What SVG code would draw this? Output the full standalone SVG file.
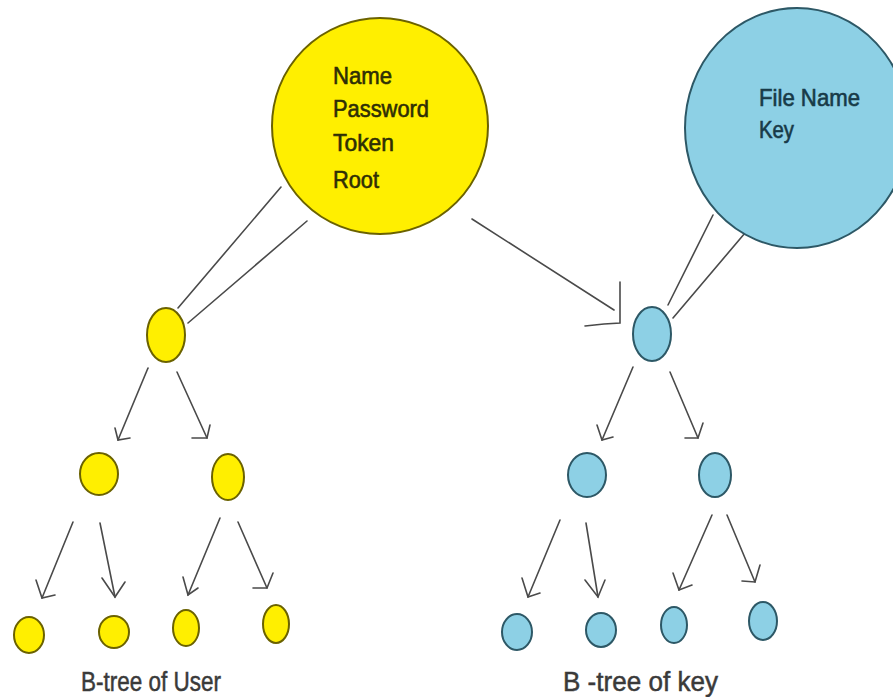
<svg xmlns="http://www.w3.org/2000/svg" width="893" height="697" viewBox="0 0 893 697">
<style>
.y{fill:#FFEF00;stroke:#6b6200;stroke-width:2}
.b{fill:#8DD0E5;stroke:#2d5866;stroke-width:2}
.c line,.c polyline{stroke:#4a4a4a;stroke-width:1.6;fill:none;stroke-linecap:round}
.t{font-family:"Liberation Sans",Arial,sans-serif;font-size:24px;stroke-width:0.6}
.ty{fill:#2e2e05;stroke:#2e2e05}
.tb{fill:#173a48;stroke:#173a48}
.cap{font-family:"Liberation Sans",Arial,sans-serif;font-size:27px;fill:#3a3a3a;stroke:#3a3a3a;stroke-width:0.5}
</style>
<rect width="893" height="697" fill="#fff"/>
<g class="c" id="connectors">
<line x1="178" y1="308" x2="281" y2="187"/>
<line x1="188" y1="323" x2="307" y2="221"/>
<line x1="668" y1="305" x2="713" y2="215"/>
<line x1="673" y1="318" x2="745" y2="233"/>
<line x1="472" y1="219" x2="614" y2="310"/>
<polyline points="620,282 620,323 604,324 585,326"/>
<line x1="148" y1="368" x2="118" y2="440"/>
<polyline points="115,428 118,440 130,438"/>
<line x1="177" y1="372" x2="207" y2="438"/>
<polyline points="192,438 207,438 210,425"/>
<line x1="73" y1="522" x2="42" y2="598"/>
<polyline points="36,580 42,598 55,595"/>
<line x1="100" y1="523" x2="115" y2="597"/>
<polyline points="102,578 115,597 125,582"/>
<line x1="220" y1="518" x2="188" y2="595"/>
<polyline points="183,577 188,595 198,588"/>
<line x1="238" y1="522" x2="267" y2="588"/>
<polyline points="253,588 267,588 273,573"/>
<line x1="633" y1="367" x2="602" y2="440"/>
<polyline points="597,425 602,440 613,437"/>
<line x1="670" y1="372" x2="698" y2="438"/>
<polyline points="685,438 698,438 703,423"/>
<line x1="560" y1="520" x2="528" y2="597"/>
<polyline points="522,578 528,597 540,593"/>
<line x1="586" y1="523" x2="598" y2="597"/>
<polyline points="585,580 598,597 605,580"/>
<line x1="712" y1="515" x2="679" y2="590"/>
<polyline points="673,573 679,590 692,585"/>
<line x1="727" y1="515" x2="755" y2="582"/>
<polyline points="742,581 755,582 760,565"/>
</g>
<g id="user-root">
<circle class="y" cx="380" cy="126" r="108"/>
<text class="t ty" x="333" y="84" textLength="59" lengthAdjust="spacingAndGlyphs">Name</text>
<text class="t ty" x="333" y="117" textLength="96" lengthAdjust="spacingAndGlyphs">Password</text>
<text class="t ty" x="333" y="151" textLength="61" lengthAdjust="spacingAndGlyphs">Token</text>
<text class="t ty" x="333" y="188" textLength="46" lengthAdjust="spacingAndGlyphs">Root</text>
</g>
<g id="key-root">
<ellipse class="b" cx="797" cy="128" rx="112" ry="120"/>
<text class="t tb" x="759" y="106" textLength="101" lengthAdjust="spacingAndGlyphs">File Name</text>
<text class="t tb" x="759" y="138" textLength="35" lengthAdjust="spacingAndGlyphs">Key</text>
</g>
<g id="u0"><ellipse class="y" cx="166" cy="335" rx="19" ry="27"/></g>
<g id="u1"><ellipse class="y" cx="99" cy="474" rx="19" ry="21"/></g>
<g id="u2"><ellipse class="y" cx="228" cy="477" rx="16" ry="23"/></g>
<g id="u3"><ellipse class="y" cx="29" cy="635" rx="15" ry="18"/></g>
<g id="u4"><ellipse class="y" cx="114" cy="632" rx="15" ry="16"/></g>
<g id="u5"><ellipse class="y" cx="186" cy="628" rx="13" ry="18"/></g>
<g id="u6"><ellipse class="y" cx="276" cy="624" rx="13" ry="19"/></g>
<g id="k0"><ellipse class="b" cx="652" cy="334" rx="19" ry="27"/></g>
<g id="k1"><ellipse class="b" cx="587" cy="475" rx="19" ry="22"/></g>
<g id="k2"><ellipse class="b" cx="715" cy="475" rx="16" ry="22"/></g>
<g id="k3"><ellipse class="b" cx="517" cy="632" rx="15" ry="18"/></g>
<g id="k4"><ellipse class="b" cx="601" cy="630" rx="15" ry="17"/></g>
<g id="k5"><ellipse class="b" cx="674" cy="625" rx="13" ry="18"/></g>
<g id="k6"><ellipse class="b" cx="763" cy="621" rx="14" ry="19"/></g>
<g id="captions">
<text class="cap" x="81" y="691" textLength="140" lengthAdjust="spacingAndGlyphs">B-tree of User</text>
<text class="cap" x="563" y="691" textLength="155" lengthAdjust="spacingAndGlyphs">B -tree of key</text>
</g>
</svg>
